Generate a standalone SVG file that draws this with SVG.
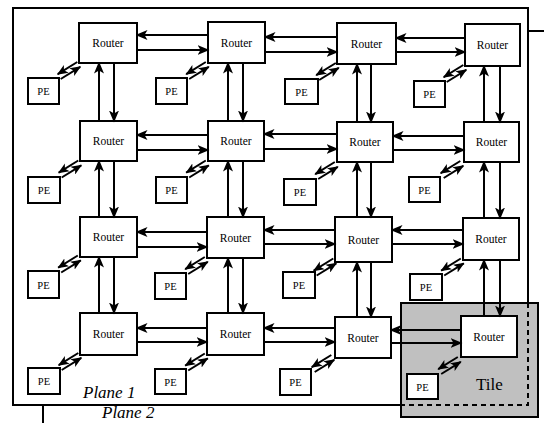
<svg xmlns="http://www.w3.org/2000/svg" width="544" height="423" viewBox="0 0 544 423">
<style>
.box{fill:#fff;stroke:#000;stroke-width:2}
.rt{font-family:"Liberation Serif","Times New Roman",serif;font-size:11.5px;text-anchor:middle;fill:#000}
.pe{font-family:"Liberation Serif","Times New Roman",serif;font-size:10.5px;text-anchor:middle;fill:#000}
.lbl{font-family:"Liberation Serif","Times New Roman",serif;font-size:17px;fill:#000}
.ln{fill:none;stroke:#000;stroke-width:2}
.a{fill:none;stroke:#000;stroke-width:2;marker-end:url(#ah)}
.p{fill:none;stroke:#000;stroke-width:2;marker-end:url(#ahs)}
</style>
<defs>
<marker id="ah" viewBox="0 0 12 10" refX="10.5" refY="5" markerWidth="12" markerHeight="10" markerUnits="userSpaceOnUse" orient="auto"><path d="M0,0 L12,5 L0,10 L3,5 Z" fill="#000"/></marker>
<marker id="ahs" viewBox="0 0 12 10" refX="11" refY="5" markerWidth="11" markerHeight="9.5" markerUnits="userSpaceOnUse" orient="auto"><path d="M0,0 L12,5 L0,10 L3,5 Z" fill="#000"/></marker>
</defs>
<rect width="544" height="423" fill="#fff"/>
<g id="plane2">
<line class="ln" x1="528" y1="31" x2="544" y2="31"/>
<line class="ln" x1="43" y1="405" x2="43" y2="423"/>
<text class="lbl" x="102" y="418" font-style="italic">Plane 2</text>
</g>
<g id="plane1">
<rect class="ln" x="13" y="8" width="515" height="397"/>
<text class="lbl" x="83" y="398" font-style="italic">Plane 1</text>
</g>
<g id="tile">
<rect x="401" y="303" width="137" height="114" fill="#c0c0c0" stroke="#000" stroke-width="2"/>
<path d="M528,303 V405 H401" fill="none" stroke="#000" stroke-width="2" stroke-dasharray="5,4"/>
<text class="lbl" x="476" y="390">Tile</text>
</g>
<g id="routers">
<g id="r00"><rect class="box" x="79" y="23" width="58" height="40"/><text class="rt" x="108" y="47">Router</text></g>
<g id="r01"><rect class="box" x="208" y="22" width="57" height="41"/><text class="rt" x="236.5" y="46.5">Router</text></g>
<g id="r02"><rect class="box" x="337" y="23" width="59" height="41"/><text class="rt" x="366.5" y="47.5">Router</text></g>
<g id="r03"><rect class="box" x="465" y="24" width="55" height="42"/><text class="rt" x="492.5" y="49">Router</text></g>
<g id="r10"><rect class="box" x="80" y="121" width="57" height="40"/><text class="rt" x="108.5" y="145">Router</text></g>
<g id="r11"><rect class="box" x="208" y="121" width="56" height="40"/><text class="rt" x="236" y="145">Router</text></g>
<g id="r12"><rect class="box" x="337" y="122" width="56" height="40"/><text class="rt" x="365" y="146">Router</text></g>
<g id="r13"><rect class="box" x="464" y="122" width="55" height="40"/><text class="rt" x="491.5" y="146">Router</text></g>
<g id="r20"><rect class="box" x="80" y="217" width="57" height="40"/><text class="rt" x="108.5" y="241">Router</text></g>
<g id="r21"><rect class="box" x="207" y="217" width="57" height="41"/><text class="rt" x="235.5" y="241.5">Router</text></g>
<g id="r22"><rect class="box" x="335" y="217" width="57" height="45"/><text class="rt" x="363.5" y="243.5">Router</text></g>
<g id="r23"><rect class="box" x="463" y="218" width="56" height="42"/><text class="rt" x="491" y="243">Router</text></g>
<g id="r30"><rect class="box" x="80" y="313" width="57" height="42"/><text class="rt" x="108.5" y="338">Router</text></g>
<g id="r31"><rect class="box" x="207" y="313" width="57" height="42"/><text class="rt" x="235.5" y="338">Router</text></g>
<g id="r32"><rect class="box" x="335" y="317" width="56" height="41"/><text class="rt" x="363" y="341.5">Router</text></g>
<g id="r33"><rect class="box" x="461" y="316" width="56" height="41"/><text class="rt" x="489" y="340.5">Router</text></g>
</g>
<g id="pes">
<g id="pe00"><rect class="box" x="28" y="78" width="31" height="26"/><text class="pe" x="43.5" y="95">PE</text></g>
<g id="pe01"><rect class="box" x="156" y="78" width="31" height="26"/><text class="pe" x="171.5" y="95">PE</text></g>
<g id="pe02"><rect class="box" x="285" y="79" width="33" height="25"/><text class="pe" x="301.5" y="95.5">PE</text></g>
<g id="pe03"><rect class="box" x="414" y="81" width="31" height="26"/><text class="pe" x="429.5" y="98">PE</text></g>
<g id="pe10"><rect class="box" x="28" y="177" width="32" height="26"/><text class="pe" x="44" y="194">PE</text></g>
<g id="pe11"><rect class="box" x="156" y="177" width="31" height="26"/><text class="pe" x="171.5" y="194">PE</text></g>
<g id="pe12"><rect class="box" x="284" y="179" width="32" height="26"/><text class="pe" x="300" y="196">PE</text></g>
<g id="pe13"><rect class="box" x="409" y="177" width="31" height="25"/><text class="pe" x="424.5" y="193.5">PE</text></g>
<g id="pe20"><rect class="box" x="28" y="271" width="31" height="27"/><text class="pe" x="43.5" y="288.5">PE</text></g>
<g id="pe21"><rect class="box" x="155" y="273" width="31" height="26"/><text class="pe" x="170.5" y="290">PE</text></g>
<g id="pe22"><rect class="box" x="283" y="272" width="32" height="26"/><text class="pe" x="299" y="289">PE</text></g>
<g id="pe23"><rect class="box" x="410" y="274" width="32" height="26"/><text class="pe" x="426" y="291">PE</text></g>
<g id="pe30"><rect class="box" x="28" y="368" width="32" height="26"/><text class="pe" x="44" y="385">PE</text></g>
<g id="pe31"><rect class="box" x="155" y="369" width="31" height="25"/><text class="pe" x="170.5" y="385.5">PE</text></g>
<g id="pe32"><rect class="box" x="280" y="369" width="31" height="26"/><text class="pe" x="295.5" y="386">PE</text></g>
<g id="pe33"><rect class="box" x="407" y="374" width="31" height="25"/><text class="pe" x="422.5" y="390.5">PE</text></g>
</g>
<g id="connectors">
<path class="a" d="M208,35H137"/><path class="a" d="M137,50H208"/>
<path class="a" d="M337,37H265"/><path class="a" d="M265,52H337"/>
<path class="a" d="M465,38H396"/><path class="a" d="M396,52H465"/>
<path class="a" d="M208,135H137"/><path class="a" d="M137,150H208"/>
<path class="a" d="M337,134H264"/><path class="a" d="M264,149H337"/>
<path class="a" d="M464,136H393"/><path class="a" d="M393,150H464"/>
<path class="a" d="M207,232H137"/><path class="a" d="M137,247H207"/>
<path class="a" d="M335,230H264"/><path class="a" d="M264,244H335"/>
<path class="a" d="M463,230H392"/><path class="a" d="M392,244H463"/>
<path class="a" d="M207,328H137"/><path class="a" d="M137,342H207"/>
<path class="a" d="M335,328H264"/><path class="a" d="M264,342H335"/>
<path class="a" d="M461,330H391"/><path class="a" d="M391,343H461"/>
<path class="a" d="M99,121V63"/><path class="a" d="M114,63V121"/>
<path class="a" d="M99,217V161"/><path class="a" d="M114,161V217"/>
<path class="a" d="M99,313V257"/><path class="a" d="M114,257V313"/>
<path class="a" d="M228,121V63"/><path class="a" d="M243,63V121"/>
<path class="a" d="M228,217V161"/><path class="a" d="M243,161V217"/>
<path class="a" d="M228,313V258"/><path class="a" d="M243,258V313"/>
<path class="a" d="M357,122V64"/><path class="a" d="M371,64V122"/>
<path class="a" d="M357,217V162"/><path class="a" d="M371,162V217"/>
<path class="a" d="M357,317V262"/><path class="a" d="M371,262V317"/>
<path class="a" d="M484,122V66"/><path class="a" d="M500,66V122"/>
<path class="a" d="M484,218V162"/><path class="a" d="M500,162V218"/>
<path class="a" d="M484,316V260"/><path class="a" d="M500,260V316"/>
<path class="p" d="M77.3,62L57.7,74.2"/><path class="p" d="M60.7,79L80.3,66.8"/>
<path class="p" d="M205.8,62L186.2,74.2"/><path class="p" d="M189.2,79L208.8,66.8"/>
<path class="p" d="M335.8,63L316.2,75.2"/><path class="p" d="M319.2,80L338.8,67.8"/>
<path class="p" d="M463.3,65L443.7,77.2"/><path class="p" d="M446.7,82L466.3,69.8"/>
<path class="p" d="M78.3,160.5L58.7,172.7"/><path class="p" d="M61.7,177.5L81.3,165.3"/>
<path class="p" d="M205.8,160.5L186.2,172.7"/><path class="p" d="M189.2,177.5L208.8,165.3"/>
<path class="p" d="M334.8,162L315.2,174.2"/><path class="p" d="M318.2,179L337.8,166.8"/>
<path class="p" d="M460.3,161L440.7,173.2"/><path class="p" d="M443.7,178L463.3,165.8"/>
<path class="p" d="M77.8,255.5L58.2,267.7"/><path class="p" d="M61.2,272.5L80.8,260.3"/>
<path class="p" d="M204.8,257L185.2,269.2"/><path class="p" d="M188.2,274L207.8,261.8"/>
<path class="p" d="M333.3,258.5L313.7,270.7"/><path class="p" d="M316.7,275.5L336.3,263.3"/>
<path class="p" d="M460.8,258.5L441.2,270.7"/><path class="p" d="M444.2,275.5L463.8,263.3"/>
<path class="p" d="M78.3,353L58.7,365.2"/><path class="p" d="M61.7,370L81.3,357.8"/>
<path class="p" d="M204.8,353.5L185.2,365.7"/><path class="p" d="M188.2,370.5L207.8,358.3"/>
<path class="p" d="M331.3,355L311.7,367.2"/><path class="p" d="M314.7,372L334.3,359.8"/>
<path class="p" d="M457.8,357L438.2,369.2"/><path class="p" d="M441.2,374L460.8,361.8"/>
</g>
</svg>
